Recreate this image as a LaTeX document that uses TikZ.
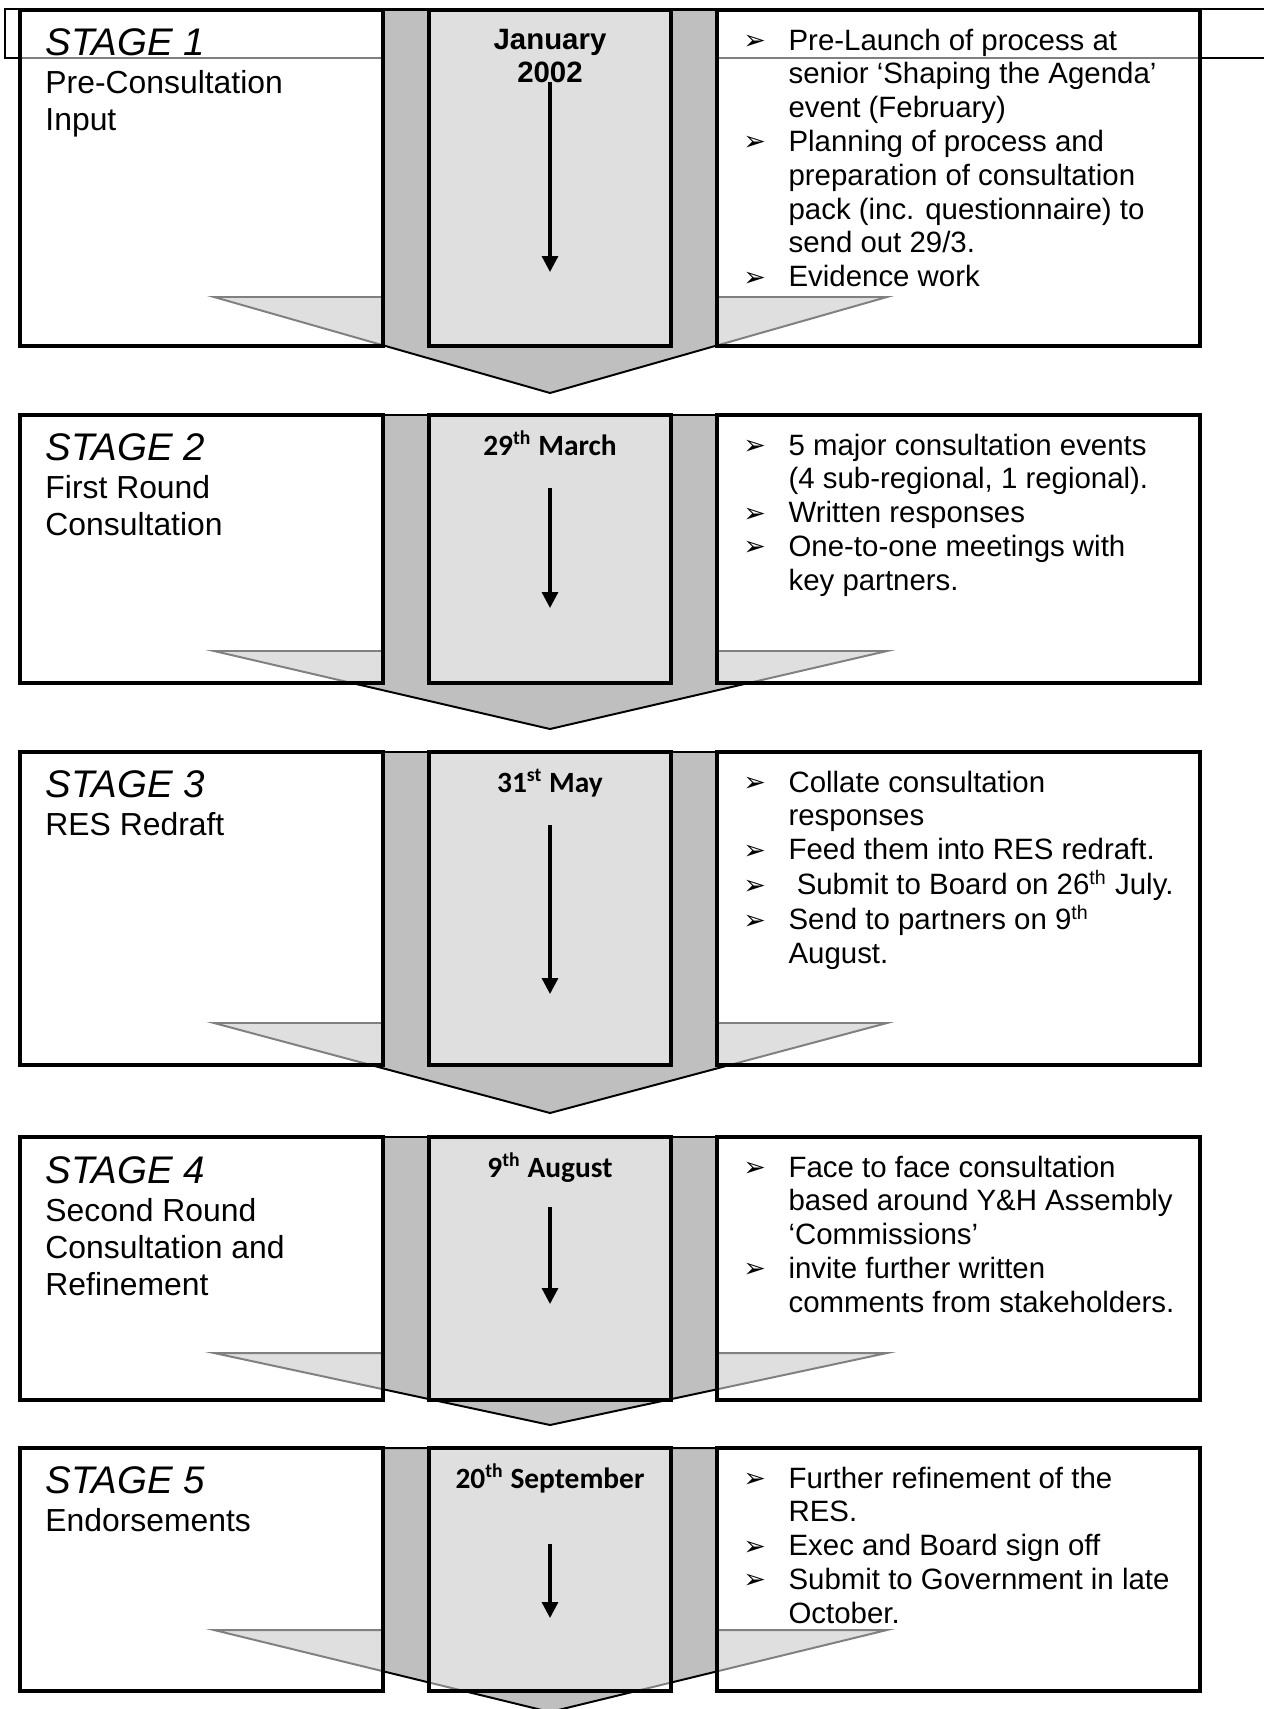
\documentclass[tikz,border=0pt]{standalone}
\usepackage{fontspec}
\setmainfont{Liberation Sans}
\newfontfamily\calibri{Carlito}
\newfontfamily\dingfont{DejaVu Sans}
\usetikzlibrary{arrows.meta}
\newcommand{\bul}{\makebox[18.4pt][l]{\raisebox{0.2pt}{\dingfont\fontsize{11}{11}\selectfont ➢}}}
\newcommand{\ind}{\hspace*{18.4pt}}
\newcommand{\thsup}{\textsuperscript{th}}
\newcommand{\leftlines}[1]{\begin{tabular}[t]{@{}l@{}}#1\end{tabular}}
\newcommand{\midlines}[1]{\begin{tabular}[t]{@{}c@{}}#1\end{tabular}}
\begin{document}
\begin{tikzpicture}[x=0.408pt,y=-0.408pt,
  band/.style={fill=black!25,draw=black,line width=0.8pt,line join=miter},
  panel/.style={draw=black,line width=1.63pt,fill=white,fill opacity=0.5},
  timeline/.style={line width=1.3pt,-{Triangle[width=6.5pt,length=6.5pt]}},
  stagetitle/.style={anchor=base west,inner sep=0pt,font=\fontsize{15.7}{17}\selectfont\itshape},
  stagetext/.style={anchor=base west,inner sep=0pt,font=\fontsize{13}{15.1}\selectfont},
  datetext/.style={anchor=base,inner sep=0pt,font=\fontsize{12}{13.8}\selectfont\calibri\bfseries},
  infotext/.style={anchor=base west,inner sep=0pt,font=\fontsize{12}{13.8}\selectfont}]
\useasboundingbox (0,0) rectangle (1264,1709);
\clip (0,0) rectangle (1264,1709);
\draw[line width=0.5pt] (1264,9) -- (5,9) -- (5,58) -- (1264,58);
\foreach \n/\t/\b/\h/\p/\s/\e in {1/10/346/297/393/82/272,2/415/683/651/729/488/608,
    3/752/1065/1023/1113/825/994,4/1137/1400/1353/1425/1207/1304,5/1448/1691/1630/1712/1544/1618}{
  \draw[band] (383,\t) -- (383,\h) -- (214,\h) -- (550,\p) -- (887,\h) -- (717,\h) -- (717,\t) -- cycle;
  \draw[panel] (20,\t) rectangle (383,\b);
  \draw[panel] (429,\t) rectangle (671,\b);
  \draw[panel] (717,\t) rectangle (1200,\b);
  \coordinate (a\n) at (550,\s);
  \coordinate (b\n) at (550,\e);
  \draw[timeline] (a\n) -- (b\n);
}

\node[stagetitle] (s1) at (45,55) {STAGE 1};
\node[stagetext] (l1) at (45,93) {\leftlines{Pre-Consultation\\Input}};
\node[datetext,font=\fontsize{12}{13.8}\selectfont\bfseries] (d1) at (550,49) {\midlines{January\\2002}};
\node[infotext] (i1) at (743,50) {\leftlines{\bul Pre-Launch of process at\\\ind senior ‘Shaping the Agenda’\\\ind event (February)\\
  \bul Planning of process and\\\ind preparation of consultation\\\ind pack (inc. questionnaire) to\\\ind send out 29/3.\\
  \bul Evidence work}};

\node[stagetitle] (s2) at (45,460) {STAGE 2};
\node[stagetext] (l2) at (45,498) {\leftlines{First Round\\Consultation}};
\node[datetext] (d2) at (550,455) {29\thsup{} March};
\node[infotext] (i2) at (743,455) {\leftlines{\bul 5 major consultation events\\\ind (4 sub-regional, 1 regional).\\
  \bul Written responses\\\bul One-to-one meetings with\\\ind key partners.}};

\node[stagetitle] (s3) at (45,797) {STAGE 3};
\node[stagetext] (l3) at (45,835) {RES Redraft};
\node[datetext] (d3) at (550,792) {31\textsuperscript{st} May};
\node[infotext] (i3) at (743,792) {\leftlines{\bul Collate consultation\\\ind responses\\\bul Feed them into RES redraft.\\
  \bul\ Submit to Board on 26\thsup{} July.\\\bul Send to partners on 9\thsup\\\ind August.}};

\node[stagetitle] (s4) at (45,1183) {STAGE 4};
\node[stagetext] (l4) at (45,1221) {\leftlines{Second Round\\Consultation and\\Refinement}};
\node[datetext] (d4) at (550,1177) {9\thsup{} August};
\node[infotext] (i4) at (743,1177) {\leftlines{\bul Face to face consultation\\\ind based around Y\&H Assembly\\\ind ‘Commissions’\\
  \bul invite further written\\\ind comments from stakeholders.}};

\node[stagetitle] (s5) at (45,1493) {STAGE 5};
\node[stagetext] (l5) at (45,1531) {Endorsements};
\node[datetext] (d5) at (550,1488) {20\thsup{} September};
\node[infotext] (i5) at (743,1488) {\leftlines{\bul Further refinement of the\\\ind RES.\\\bul Exec and Board sign off\\
  \bul Submit to Government in late\\\ind October.}};
\end{tikzpicture}
\end{document}
